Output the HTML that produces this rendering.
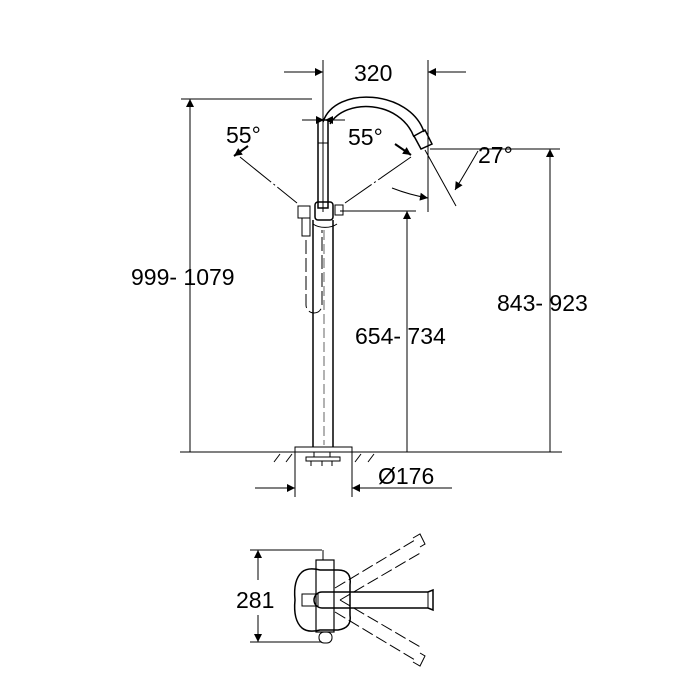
<!DOCTYPE html>
<html><head><style>html,body{margin:0;padding:0;background:#fff}svg{display:block}</style></head>
<body>
<svg width="700" height="700" viewBox="0 0 700 700" xmlns="http://www.w3.org/2000/svg" font-family="Liberation Sans, sans-serif">
<defs>
<marker id="a" viewBox="0 0 10 10" refX="10" refY="5" markerWidth="14" markerHeight="8" markerUnits="userSpaceOnUse" orient="auto"><path d="M0,0L10,5L0,10z" fill="#000"/></marker>
</defs>
<g stroke="#000" stroke-width="1" fill="none">
<line x1="323" y1="60" x2="323" y2="212"/>
<line x1="428" y1="60" x2="428" y2="212"/>
<line x1="284" y1="72" x2="323" y2="72" marker-end="url(#a)"/>
<line x1="466" y1="72" x2="428" y2="72" marker-end="url(#a)"/>
<line x1="181" y1="99" x2="312" y2="99"/>
<line x1="190" y1="452" x2="190" y2="99" marker-end="url(#a)"/>
<line x1="430" y1="149" x2="560" y2="149"/>
<line x1="550" y1="452" x2="550" y2="149" marker-end="url(#a)"/>
<line x1="340" y1="211" x2="416" y2="211"/>
<line x1="407" y1="452" x2="407" y2="211" marker-end="url(#a)"/>
<line x1="180" y1="452" x2="562" y2="452"/>
<line x1="295" y1="452" x2="295" y2="497"/>
<line x1="352" y1="452" x2="352" y2="497"/>
<line x1="255" y1="488" x2="295" y2="488" marker-end="url(#a)"/>
<line x1="452" y1="488" x2="352" y2="488" marker-end="url(#a)"/>
<path d="M274,462l6,-8M286,462l6,-8M355,462l6,-8M368,462l6,-8"/>
<rect x="295" y="447" width="57" height="5"/>
<path d="M306,457h34v4h-34z M311,461v5M322,461v5M332,461v5 M314,452v5M330,452v5"/>
<line x1="313" y1="220" x2="313" y2="447" stroke-width="1.5"/>
<line x1="333" y1="220" x2="333" y2="447" stroke-width="1.5"/>
<line x1="324" y1="230" x2="324" y2="445" stroke-dasharray="10,4" stroke-width="0.6"/>
<path d="M306,240V305a8,8 0 0 0 16,0V230" stroke-dasharray="14,4"/>
<rect x="302" y="218" width="8" height="18"/>
<rect x="318" y="120" width="10" height="88" stroke-width="1.5"/>
<line x1="318" y1="143" x2="328" y2="143"/>
<rect x="315" y="202" width="18" height="18" rx="3" stroke-width="1.5"/>
<rect x="298" y="206" width="12" height="12"/>
<rect x="335" y="205" width="8" height="10"/>
<path d="M313,224a16,10 0 0 0 24,0"/>
<path d="M323,122C335,85 410,90 424,132" stroke-width="1.5"/>
<path d="M330,124C345,98 400,100 414,137" stroke-width="1.5"/>
<path d="M414,136l11,-6l7,14l-11,5z" stroke-width="1.5"/>
<line x1="425" y1="150" x2="456" y2="206"/>
<line x1="432" y1="149" x2="475" y2="149"/>
<path d="M478,151Q470,165 455,190" marker-end="url(#a)"/>
<path d="M392,188Q410,195 428,198" marker-end="url(#a)"/>
<line x1="240" y1="157" x2="297" y2="203" stroke-dasharray="40,3,2,3"/>
<line x1="411" y1="157" x2="345" y2="203" stroke-dasharray="40,3,2,3"/>
<path d="M248,146l-14,10" marker-end="url(#a)" stroke-width="2"/>
<path d="M395,144l16,11" marker-end="url(#a)" stroke-width="2"/>
<path d="M302,120h22" marker-end="url(#a)"/>
<path d="M345,120h-20" marker-end="url(#a)"/>
<line x1="250" y1="550" x2="322" y2="550"/>
<line x1="250" y1="642" x2="322" y2="642"/>
<line x1="258" y1="580" x2="258" y2="550" marker-end="url(#a)"/>
<line x1="258" y1="615" x2="258" y2="642" marker-end="url(#a)"/>
<path d="M302,572Q308,567 320,570H338Q352,570 350,585V615Q352,628 338,630H320Q308,633 302,628Q293,620 295,600Q293,580 302,572z" stroke-width="1.5"/>
<rect x="316" y="560" width="18" height="72" stroke-width="1.2"/>
<rect x="319" y="632" width="13" height="11" rx="5"/>
<line x1="323" y1="550" x2="323" y2="560"/>
<rect x="302" y="594" width="16" height="12"/>
<path d="M322,592H428l5,-2v20l-5,-2H322a8,8 0 0 1 0,-16z" stroke-width="1.5"/>
<line x1="428" y1="592" x2="428" y2="608"/>
<path d="M335,588L415,540M340,600L422,552" stroke-dasharray="12,4"/>
<path d="M413,538l7,-4l5,10l-5,3"/>
<path d="M335,612L415,660M340,600L422,648" stroke-dasharray="12,4"/>
<path d="M413,662l7,4l5,-10l-5,-3"/>
</g>
<g fill="#000" font-size="23">
<text x="354" y="81">320</text>
<text x="226" y="143">55°</text>
<text x="348" y="145">55°</text>
<text x="478" y="163">27°</text>
<text x="131" y="285">999- 1079</text>
<text x="497" y="311">843- 923</text>
<text x="355" y="344">654- 734</text>
<text x="378" y="484">Ø176</text>
<text x="236" y="608">281</text>
</g>
</svg>
</body></html>
